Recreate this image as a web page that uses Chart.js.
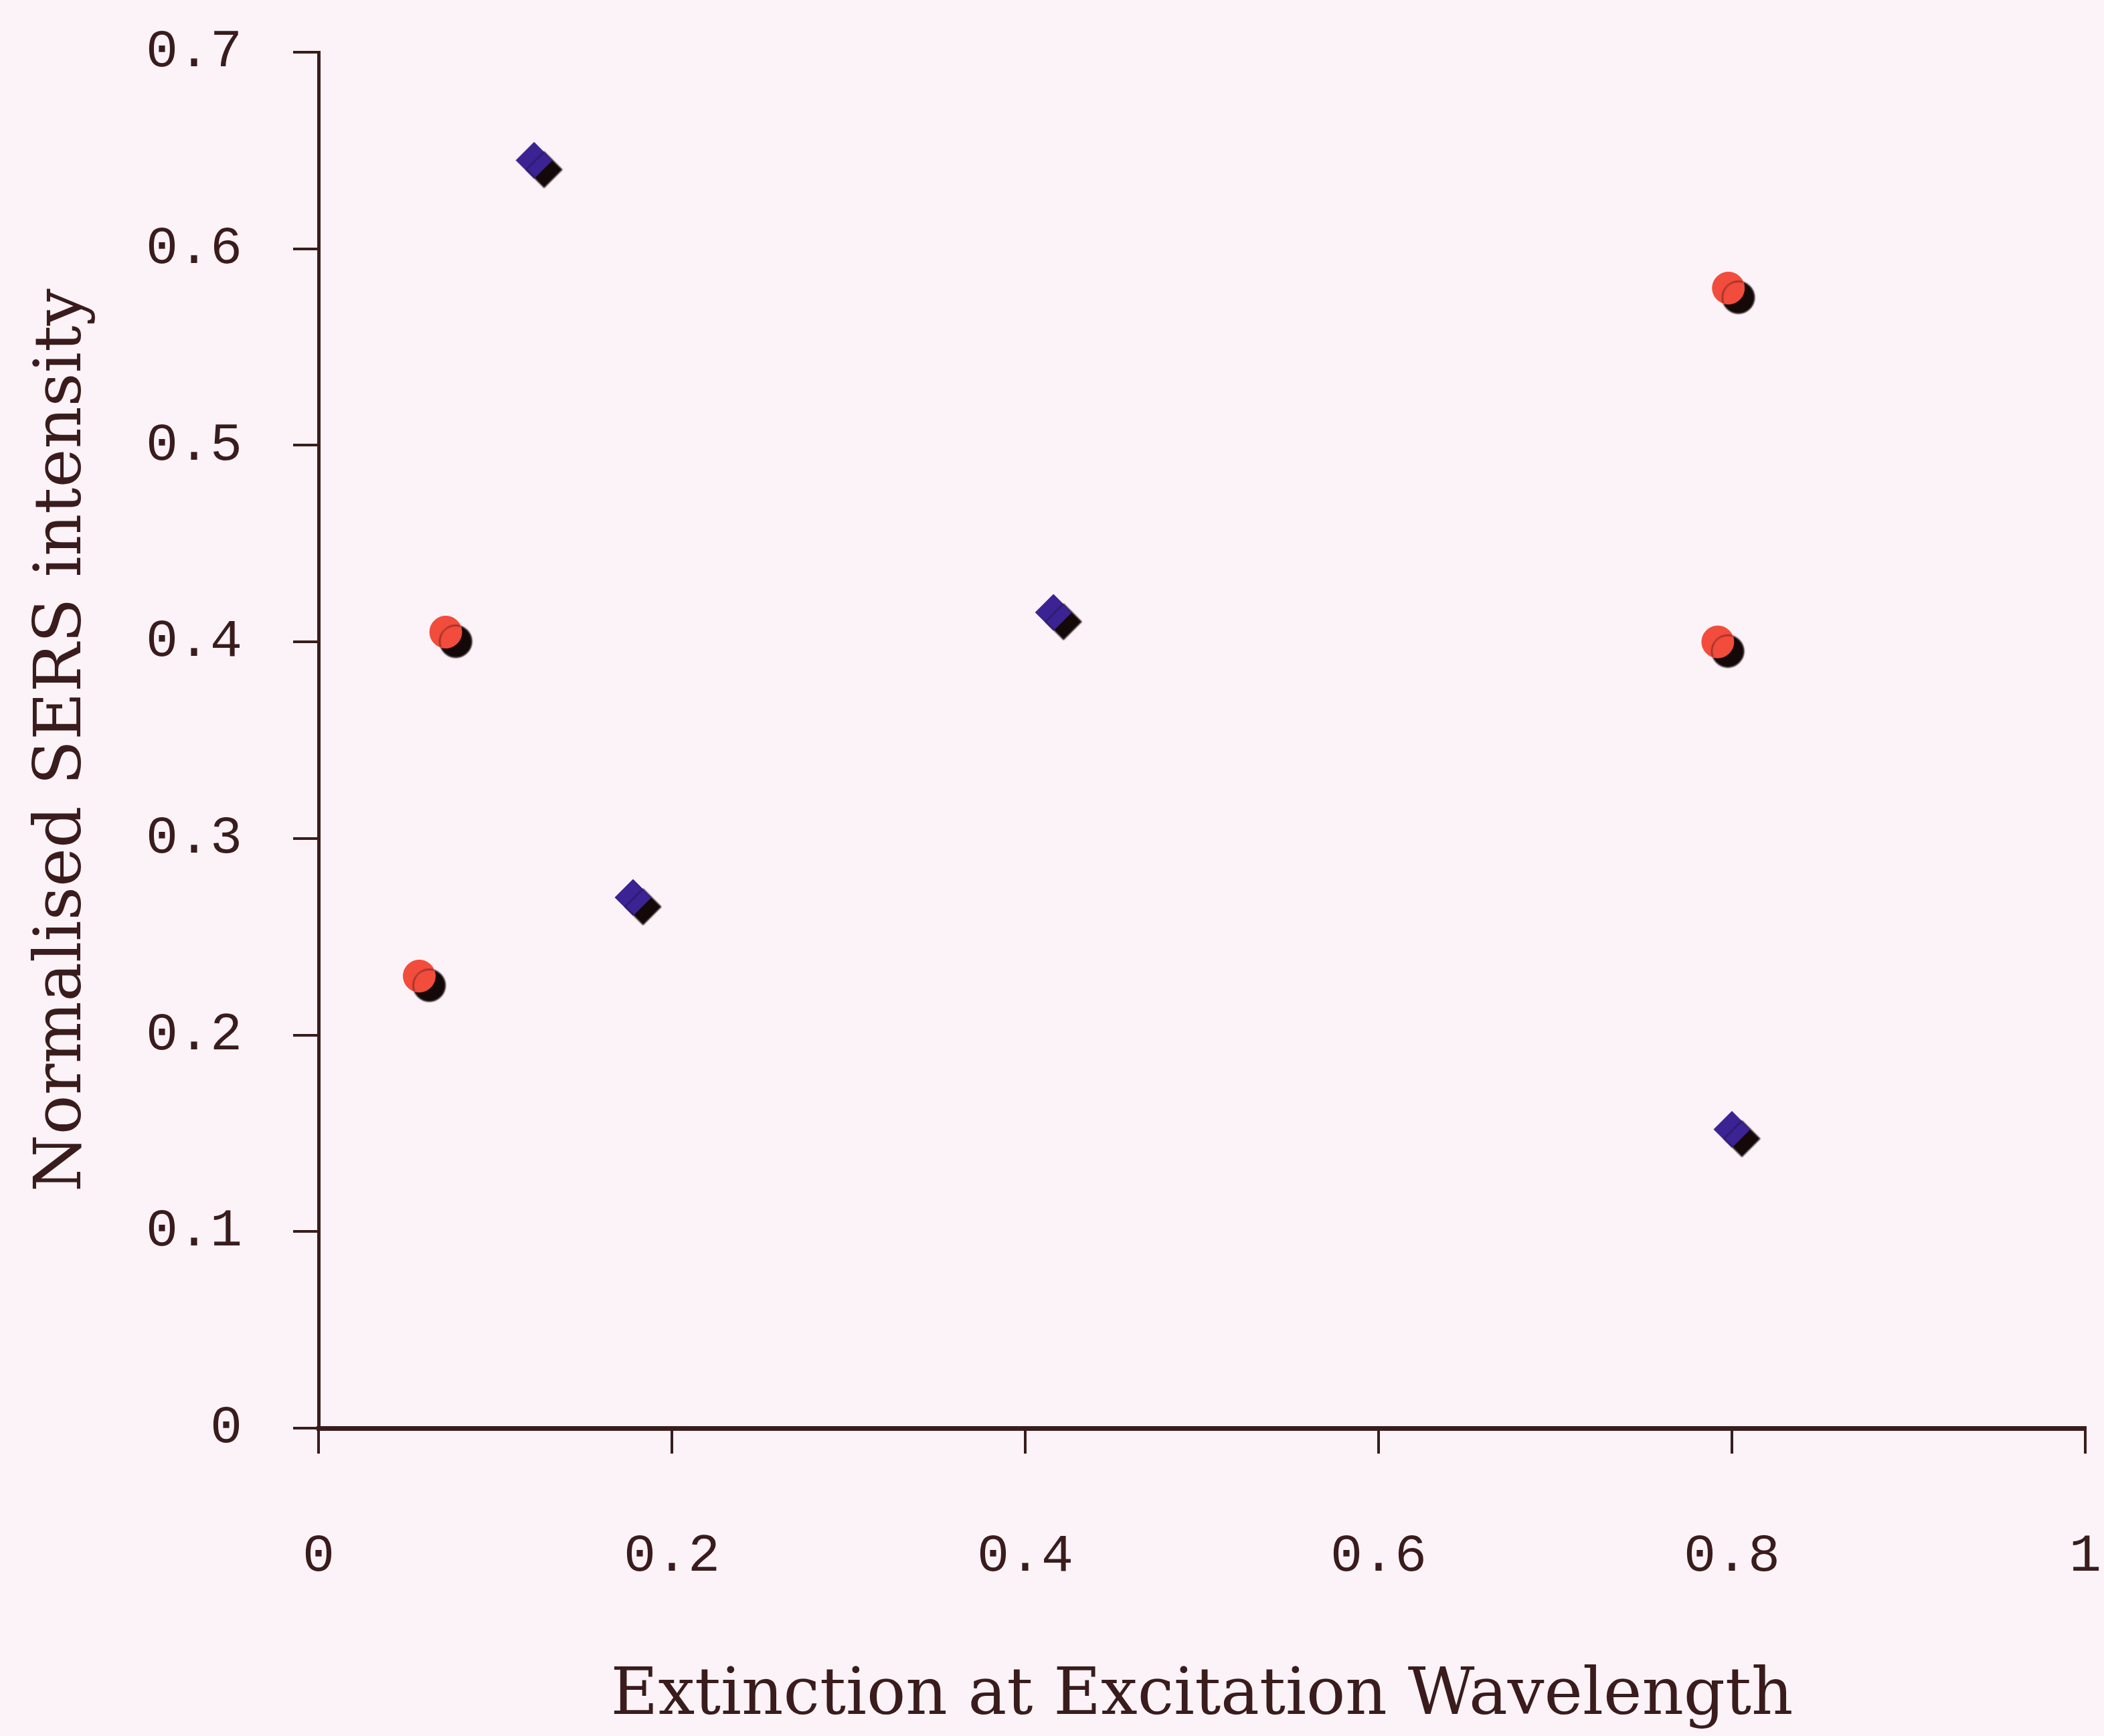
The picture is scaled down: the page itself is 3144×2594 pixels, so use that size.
<!DOCTYPE html>
<html>
<head>
<meta charset="utf-8">
<script src="https://cdn.jsdelivr.net/npm/chart.js@4/dist/chart.umd.min.js"></script>
<style>
  html, body { margin: 0; padding: 0; background: #fbf3f8; }
  #wrap { width: 3144px; height: 2594px; }
</style>
</head>
<body>
<div id="wrap"><canvas id="myChart" width="3144" height="2594"></canvas></div>
<script>
// extinction (x) vs normalised SERS intensity (y)
var diamondX = [0.122, 0.178, 0.416, 0.800];
var diamondY = [0.645, 0.270, 0.415, 0.152];
var circleX = [0.057, 0.072, 0.798, 0.792];
var circleY = [0.230, 0.405, 0.580, 0.400];
var xTicks = [0, 0.2, 0.4, 0.6, 0.8, 1];
var yTicks = [0, 0.1, 0.2, 0.3, 0.4, 0.5, 0.6, 0.7];

var ink = '#3a1c1c';

function pts(xs, ys) {
    var out = [];
    for (var i = 0; i < xs.length; i++) {
        out.push({ x: xs[i], y: ys[i] });
    }
    return out;
}

// black drop shadow under every marker
var markerShadow = {
    id: 'markerShadow',
    beforeDatasetsDraw: function(chart) {
        var c = chart.ctx;
        c.save();
        c.shadowColor = '#150808';
        c.shadowOffsetX = 15;
        c.shadowOffsetY = 14;
        c.shadowBlur = 2;
    },
    afterDatasetsDraw: function(chart) {
        chart.ctx.restore();
    }
};

var ctx = document.getElementById('myChart').getContext('2d');
var myChart = new Chart(ctx, {
    type: 'scatter',
    data: {
        datasets: [{
            data: pts(diamondX, diamondY),
            pointStyle: 'rectRot',
            pointRadius: 27,
            backgroundColor: '#3b2394',
            borderColor: '#3b2394',
            borderWidth: 1
        }, {
            data: pts(circleX, circleY),
            pointStyle: 'circle',
            pointRadius: 24,
            backgroundColor: '#f24c3c',
            borderColor: '#f24c3c',
            borderWidth: 1
        }]
    },
    options: {
        responsive: false,
        animation: false,
        layout: { padding: { top: 78, right: 24, left: 0, bottom: 0 } },
        plugins: {
            legend: { display: false },
            tooltip: { enabled: false }
        },
        scales: {
            x: {
                type: 'linear',
                min: 0,
                max: 1,
                afterBuildTicks: function(axis) {
                    axis.ticks = xTicks.map(function(v) { return { value: v }; });
                },
                afterFit: function(axis) {
                    axis.height = 460;
                    // the big label gap below the axis should not eat the sides
                    axis.paddingLeft = 0;
                    axis.paddingRight = 24;
                },
                border: { color: ink, width: 7 },
                grid: { drawOnChartArea: false, color: ink, lineWidth: 4, tickLength: 38 },
                ticks: {
                    padding: 106,
                    color: ink,
                    font: { family: 'Liberation Mono', size: 80 },
                    callback: function(v) { return String(v); }
                },
                title: {
                    display: true,
                    text: 'Extinction at Excitation Wavelength',
                    color: ink,
                    font: { family: 'DejaVu Serif', size: 97 },
                    padding: { top: 0, bottom: 0 }
                }
            },
            y: {
                type: 'linear',
                min: 0,
                max: 0.7,
                afterBuildTicks: function(axis) {
                    axis.ticks = yTicks.map(function(v) { return { value: v }; });
                },
                afterFit: function(axis) {
                    axis.width = 476;
                    axis.paddingTop = 0;
                    axis.paddingBottom = 0;
                },
                border: { color: ink, width: 5 },
                grid: { drawOnChartArea: false, color: ink, lineWidth: 4, tickLength: 38 },
                ticks: {
                    padding: 76,
                    color: ink,
                    font: { family: 'Liberation Mono', size: 80 },
                    callback: function(v) { return String(v); }
                },
                title: {
                    display: true,
                    text: 'Normalised SERS intensity',
                    color: ink,
                    font: { family: 'DejaVu Serif', size: 98 },
                    padding: { top: 36, bottom: 0 }
                }
            }
        }
    },
    plugins: [markerShadow]
});
</script>
</body>
</html>
